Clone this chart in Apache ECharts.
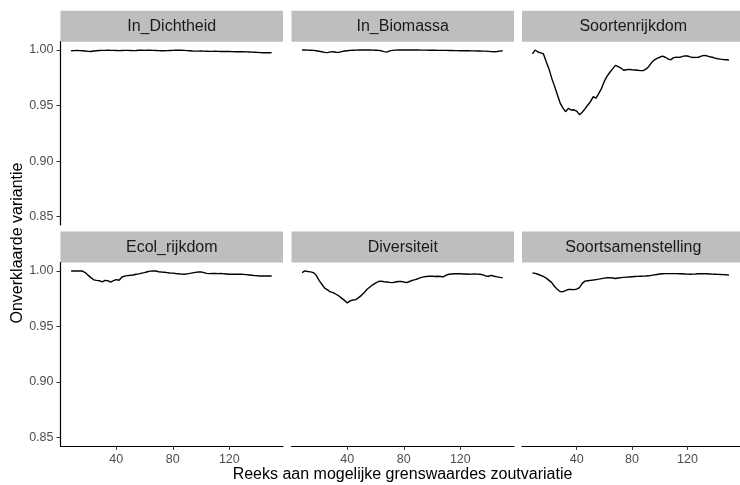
<!DOCTYPE html>
<html>
<head>
<meta charset="utf-8">
<script src="https://cdn.jsdelivr.net/npm/echarts@6/dist/echarts.min.js"></script>
<style>
html,body{margin:0;padding:0;background:#fff;}
#chart{width:740px;height:485px;}
</style>
</head>
<body>
<div id="chart"></div>
<script>
// ---- data ----
const panelNames = ["In_Dichtheid","In_Biomassa","Soortenrijkdom","Ecol_rijkdom","Diversiteit","Soortsamenstelling"];
const xTicks = [40, 80, 120];
const yTicks = [0.85, 0.90, 0.95, 1.00];
const xTitle = "Reeks aan mogelijke grenswaardes zoutvariatie";
const yTitle = "Onverklaarde variantie";

const xs = [8,10,12,14,16,18,20,22,24,26,28,30,32,34,36,38,40,42,44,46,48,50,52,54,56,58,60,62,64,66,68,70,72,74,76,78,80,82,84,86,88,90,92,94,96,98,100,102,104,106,108,110,112,114,116,118,120,122,124,126,128,130,132,134,136,138,140,142,144,146,148,150];

const inDichtheid = [0.9993,0.9995,0.9996,0.9995,0.9994,0.9991,0.9988,0.9987,0.9991,0.9994,0.9996,0.9997,0.9997,0.9998,0.9997,0.9997,0.9996,0.9995,0.9996,0.9997,0.9997,0.9996,0.9995,0.9996,0.9998,0.9998,0.9997,0.9998,0.9998,0.9997,0.9996,0.9995,0.9994,0.9994,0.9995,0.9996,0.9997,0.9998,0.9998,0.9998,0.9997,0.9995,0.9993,0.9991,0.9990,0.9990,0.9991,0.9990,0.9989,0.9988,0.9988,0.9989,0.9988,0.9987,0.9987,0.9988,0.9987,0.9986,0.9985,0.9985,0.9984,0.9984,0.9983,0.9982,0.9981,0.9980,0.9979,0.9977,0.9976,0.9975,0.9976,0.9977];

const inBiomassa = [1.0000,1.0000,0.9999,0.9998,0.9997,0.9994,0.9989,0.9984,0.9979,0.9977,0.9983,0.9985,0.9980,0.9979,0.9986,0.9991,0.9994,0.9997,0.9998,0.9999,1.0000,1.0000,1.0000,1.0000,1.0000,0.9999,0.9998,0.9997,0.9993,0.9986,0.9981,0.9992,0.9997,0.9999,1.0000,1.0000,1.0000,1.0000,1.0000,1.0000,1.0000,1.0000,0.9999,0.9999,0.9999,0.9998,0.9998,0.9998,0.9997,0.9997,0.9997,0.9997,0.9996,0.9996,0.9995,0.9995,0.9994,0.9994,0.9993,0.9993,0.9992,0.9992,0.9991,0.9991,0.9990,0.9990,0.9988,0.9986,0.9985,0.9987,0.9990,0.9993];

const soortenrijkdom = [0.9965,1.0000,0.9982,0.9975,0.9965,0.9895,0.9830,0.9745,0.9675,0.9600,0.9525,0.9480,0.9445,0.9475,0.9460,0.9462,0.9450,0.9418,0.9440,0.9470,0.9505,0.9535,0.9580,0.9568,0.9610,0.9655,0.9720,0.9765,0.9800,0.9830,0.9862,0.9850,0.9838,0.9818,0.9822,0.9826,0.9822,0.9820,0.9818,0.9815,0.9815,0.9828,0.9850,0.9885,0.9910,0.9925,0.9935,0.9946,0.9935,0.9920,0.9912,0.9932,0.9935,0.9934,0.9940,0.9947,0.9946,0.9938,0.9933,0.9934,0.9935,0.9945,0.9952,0.9948,0.9940,0.9935,0.9927,0.9922,0.9918,0.9915,0.9913,0.9910];

const ecolRijkdom = [1.0000,1.0000,0.9999,1.0000,0.9999,0.9985,0.9962,0.9940,0.9920,0.9915,0.9912,0.9901,0.9915,0.9912,0.9900,0.9912,0.9922,0.9916,0.9945,0.9953,0.9958,0.9961,0.9963,0.9970,0.9974,0.9980,0.9985,0.9993,0.9998,1.0000,0.9999,0.9993,0.9990,0.9988,0.9985,0.9982,0.9980,0.9977,0.9975,0.9971,0.9970,0.9974,0.9978,0.9983,0.9987,0.9990,0.9991,0.9985,0.9978,0.9976,0.9977,0.9977,0.9976,0.9978,0.9974,0.9972,0.9970,0.9971,0.9970,0.9970,0.9970,0.9969,0.9967,0.9964,0.9961,0.9958,0.9956,0.9955,0.9955,0.9955,0.9955,0.9955];

const diversiteit = [0.9985,1.0000,0.9995,0.9992,0.9985,0.9960,0.9915,0.9880,0.9845,0.9830,0.9812,0.9805,0.9790,0.9775,0.9755,0.9735,0.9712,0.9730,0.9738,0.9742,0.9760,0.9780,0.9805,0.9835,0.9855,0.9875,0.9890,0.9905,0.9908,0.9903,0.9900,0.9897,0.9895,0.9900,0.9905,0.9906,0.9900,0.9895,0.9905,0.9915,0.9922,0.9930,0.9940,0.9946,0.9950,0.9952,0.9953,0.9950,0.9952,0.9950,0.9946,0.9962,0.9970,0.9973,0.9975,0.9976,0.9975,0.9973,0.9972,0.9970,0.9971,0.9972,0.9971,0.9970,0.9965,0.9955,0.9952,0.9960,0.9952,0.9946,0.9942,0.9940];

const soortsamenstelling = [0.9982,0.9978,0.9970,0.9960,0.9950,0.9935,0.9915,0.9895,0.9860,0.9835,0.9815,0.9813,0.9822,0.9833,0.9833,0.9832,0.9836,0.9850,0.9888,0.9908,0.9912,0.9915,0.9918,0.9922,0.9926,0.9931,0.9935,0.9938,0.9940,0.9936,0.9932,0.9936,0.9940,0.9942,0.9944,0.9946,0.9948,0.9950,0.9951,0.9952,0.9953,0.9954,0.9956,0.9960,0.9964,0.9968,0.9972,0.9975,0.9976,0.9976,0.9976,0.9976,0.9976,0.9975,0.9974,0.9973,0.9971,0.9970,0.9971,0.9972,0.9974,0.9975,0.9976,0.9975,0.9973,0.9971,0.9970,0.9969,0.9968,0.9967,0.9965,0.9964];

const seriesValues = [inDichtheid, inBiomassa, soortenrijkdom, ecolRijkdom, diversiteit, soortsamenstelling];

// ---- layout ----
const FONT = "'Liberation Sans', Arial, sans-serif";
const colLeft = [60.5, 291.5, 522];
const panelW = 222.5;
const rowTop = [41.7, 262.6];
const panelH = 183.3;
const stripH = 31;
const xMin = 0.5, xMax = 158;
const yMin = 0.8425, yMax = 1.0075;

const grids = [], xAxes = [], yAxes = [], series = [], graphics = [];
for (let i = 0; i < 6; i++) {
  const r = Math.floor(i / 3), c = i % 3;
  grids.push({left: colLeft[c], top: rowTop[r], width: panelW, height: panelH, containLabel: false});
  xAxes.push({
    type: 'value', gridIndex: i, min: xMin, max: xMax,
    show: r === 1,
    splitLine: {show: false},
    axisLine: {show: true, onZero: false, lineStyle: {color: '#000', width: 1.2}},
    axisTick: {show: true, length: 4, customValues: xTicks, lineStyle: {color: '#333', width: 1}},
    axisLabel: {show: true, customValues: xTicks, margin: 7, color: '#4D4D4D', fontSize: 12.5, fontFamily: FONT}
  });
  yAxes.push({
    type: 'value', gridIndex: i, min: yMin, max: yMax,
    show: c === 0,
    splitLine: {show: false},
    axisLine: {show: true, onZero: false, lineStyle: {color: '#000', width: 1.2}},
    axisTick: {show: true, length: 4, customValues: yTicks, lineStyle: {color: '#333', width: 1}},
    axisLabel: {show: true, customValues: yTicks, margin: 7, color: '#4D4D4D', fontSize: 12.5, fontFamily: FONT,
      formatter: v => Number(v).toFixed(2)}
  });
  const vals = seriesValues[i];
  series.push({
    type: 'line', xAxisIndex: i, yAxisIndex: i,
    data: xs.map((x, k) => [x, vals[k]]),
    showSymbol: false, symbol: 'none', smooth: false,
    lineStyle: {color: '#000', width: 1.4},
    silent: true, animation: false
  });
  graphics.push({
    type: 'rect', silent: true,
    shape: {x: colLeft[c], y: rowTop[r] - stripH, width: panelW, height: stripH},
    style: {fill: '#BEBEBE'}
  });
  graphics.push({
    type: 'text', silent: true,
    x: colLeft[c] + panelW / 2, y: rowTop[r] - stripH / 2 + 0.5,
    style: {text: panelNames[i], fill: '#1A1A1A', font: '16px ' + FONT, align: 'center', verticalAlign: 'middle'}
  });
}
graphics.push({
  type: 'text', silent: true, x: 402.5, y: 474.5,
  style: {text: xTitle, fill: '#000', font: '16px ' + FONT, align: 'center', verticalAlign: 'middle'}
});
graphics.push({
  type: 'text', silent: true, x: 17.5, y: 243, rotation: Math.PI / 2,
  style: {text: yTitle, fill: '#000', font: '16px ' + FONT, align: 'center', verticalAlign: 'middle'}
});

const chart = echarts.init(document.getElementById('chart'), null, {renderer: 'canvas'});
chart.setOption({
  animation: false,
  backgroundColor: '#fff',
  grid: grids, xAxis: xAxes, yAxis: yAxes, series: series,
  graphic: graphics
});
</script>
</body>
</html>
